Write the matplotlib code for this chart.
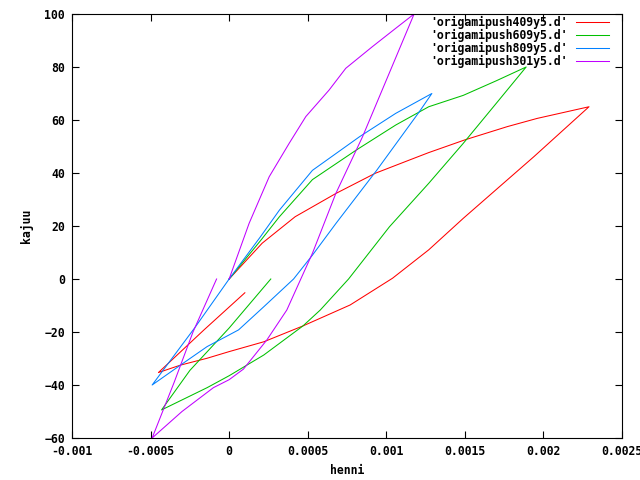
import numpy as np
import matplotlib
matplotlib.use("Agg")
import matplotlib.pyplot as plt

# x values in units of 1e-3 (henni), y values kajuu
red_x = [0, 0.21, 0.42, 0.68, 0.93, 1.13, 1.27, 1.5, 1.77, 1.96, 2.29,
         1.94, 1.49, 1.27, 1.04, 0.77, 0.47, 0.22, 0.0, -0.14, -0.31, -0.45,
         -0.16, 0.10]
red_y = [0, 13.5, 23.5, 32.3, 39.9, 44.5, 47.7, 52.5, 57.5, 60.6, 65,
         46.2, 22.9, 11, 0.3, -9.8, -17.7, -23.7, -27.4, -29.9, -32.5, -35.3,
         -19.2, -5.2]

green_x = [0, 0.2, 0.32, 0.53, 0.81, 1.06, 1.27, 1.49, 1.70, 1.89,
           1.70, 1.49, 1.27, 1.02, 0.76, 0.58, 0.47, 0.22, 0.0, -0.14, -0.43,
           -0.25, 0.0, 0.265]
green_y = [0, 14.5, 23.5, 37.5, 48.7, 58.1, 65, 69.3, 74.8, 80,
           66.3, 51.2, 36.1, 19.7, 0, -11.7, -17.7, -28.7, -36.5, -41, -49.4,
           -34.5, -18.5, 0]

blue_x = [0, 0.2, 0.32, 0.53, 0.83, 1.06, 1.29,
          1.21, 0.94, 0.68, 0.53, 0.41, 0.22, 0.06, 0.0, -0.14, -0.31, -0.49,
          -0.22, 0]
blue_y = [0, 16, 26, 41, 53.7, 62.5, 70,
          63.1, 41.1, 21, 9, 0, -10.5, -19.2, -21.1, -25.5, -32.5, -40,
          -18.5, 0]

mag_x = [0, 0.127, 0.255, 0.382, 0.488, 0.636, 0.742, 0.912, 1.06, 1.177,
         0.849, 0.679, 0.53, 0.456, 0.367, 0.24, 0.091, 0.0, -0.1, -0.3, -0.49,
         -0.35, -0.23, -0.08]
mag_y = [0, 21, 38.6, 51.2, 61.3, 71.3, 79.5, 87.7, 94.6, 100,
         53.7, 32.3, 9.7, 0, -11.7, -23, -34, -38, -41, -50, -60,
         -39, -20, 0]

labels = ["'origamipush409y5.d'", "'origamipush609y5.d'",
          "'origamipush809y5.d'", "'origamipush301y5.d'"]
colors = ["#ff0000", "#00c000", "#0080ff", "#c000ff"]

xticks = [-0.001, -0.0005, 0, 0.0005, 0.001, 0.0015, 0.002, 0.0025]
xticklabels = ["-0.001", "-0.0005", "0", "0.0005", "0.001", "0.0015", "0.002", "0.0025"]
yticks = [-60, -40, -20, 0, 20, 40, 60, 80, 100]

plt.rcParams["font.family"] = "DejaVu Sans Mono"
plt.rcParams["font.weight"] = "bold"
plt.rcParams["font.size"] = 8.3

fig = plt.figure(figsize=(6.4, 4.8), dpi=100)
ax = fig.add_axes([72/640, 1-438/480, 550/640, 424/480])

series = [(red_x, red_y), (green_x, green_y), (blue_x, blue_y), (mag_x, mag_y)]
for (xs, ys), lab, c in zip(series, labels, colors):
    ax.plot(np.array(xs) * 1e-3, ys, color=c, lw=0.75, label=lab)

ax.set_xlim(-0.001, 0.0025)
ax.set_ylim(-60, 100)
ax.set_xticks(xticks)
ax.set_xticklabels(xticklabels)
ax.set_yticks(yticks)
ax.tick_params(direction="in", length=5, width=0.8, top=True, right=True,
               labelsize=8.3)
ax.tick_params(axis="x", pad=5)
ax.tick_params(axis="y", pad=5)
for sp in ax.spines.values():
    sp.set_linewidth(0.8)

ax.set_xlabel("henni", fontsize=8.3, fontweight="bold", labelpad=4)
ax.set_ylabel("kajuu", fontsize=8.3, fontweight="bold", labelpad=8)

leg = ax.legend(loc="upper right", frameon=False, markerfirst=False,
                handlelength=2.9, handletextpad=0.7, labelspacing=0.0,
                borderaxespad=0.0, borderpad=0.0,
                bbox_to_anchor=(1 - 13/550, 1 - 1.5/424), fontsize=8.3)

fig.savefig("out.png", dpi=100)
